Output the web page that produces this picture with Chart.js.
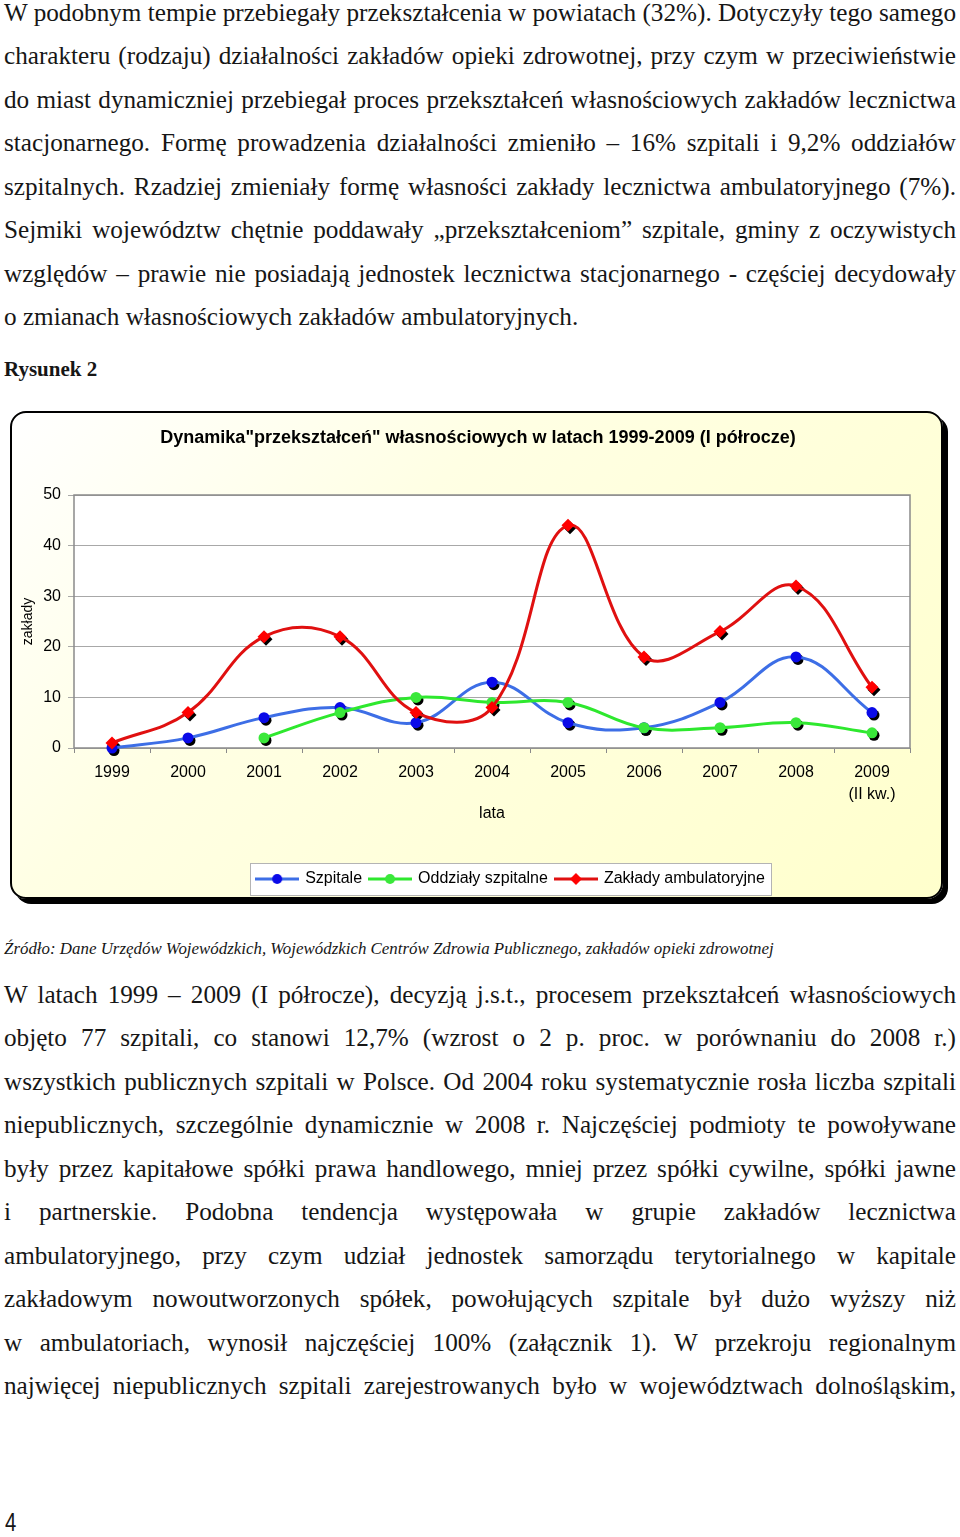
<!DOCTYPE html>
<html lang="pl">
<head>
<meta charset="utf-8">
<title>Rysunek 2</title>
<script src="https://cdn.jsdelivr.net/npm/chart.js@4.4.1/dist/chart.umd.min.js"></script>
<style>
  html, body { margin: 0; padding: 0; background: #fff; }
  body { width: 960px; height: 1537px; position: relative; overflow: hidden;
         font-family: "Liberation Serif", "Times New Roman", serif; color: #161616; }
  .txt { position: absolute; left: 4px; width: 952px; font-size: 25.2px; line-height: 43.45px; }
  .txt div { white-space: nowrap; text-align: justify; text-align-last: justify; }
  .txt div.last { text-align-last: left; }
  #fig { position: absolute; left: 4px; top: 354px; font-size: 21px; font-weight: bold; line-height: 30px; }
  #src { position: absolute; left: 4px; top: 937px; font-size: 16.9px; font-style: italic; line-height: 24px; white-space: nowrap; }
  #pg { position: absolute; left: 5px; top: 1505px; font-family: "Liberation Sans", Arial, sans-serif;
        font-size: 26px; line-height: 34px; transform: scaleX(0.78); transform-origin: left top; }
  #frame { position: absolute; left: 10px; top: 411px; width: 929px; height: 484px;
           border: 2px solid #000; border-radius: 16px; box-shadow: 5px 5px 0 #000;
           background: linear-gradient(135deg, #ffffff 0%, #ffffe4 35%, #ffffcc 100%); }
  #frame canvas { position: absolute; left: 0; top: 0; }
</style>
</head>
<body>

<div class="txt" style="top:-9px">
  <div>W podobnym tempie przebiegały przekształcenia w powiatach (32%). Dotyczyły tego samego</div>
  <div>charakteru (rodzaju) działalności zakładów opieki zdrowotnej, przy czym w przeciwieństwie</div>
  <div>do miast dynamiczniej przebiegał proces przekształceń własnościowych zakładów lecznictwa</div>
  <div>stacjonarnego. Formę prowadzenia działalności zmieniło – 16% szpitali i 9,2% oddziałów</div>
  <div>szpitalnych. Rzadziej zmieniały formę własności zakłady lecznictwa ambulatoryjnego (7%).</div>
  <div>Sejmiki województw chętnie poddawały „przekształceniom” szpitale, gminy z oczywistych</div>
  <div>względów – prawie nie posiadają jednostek lecznictwa stacjonarnego - częściej decydowały</div>
  <div class="last">o zmianach własnościowych zakładów ambulatoryjnych.</div>
</div>

<div id="fig">Rysunek 2</div>

<div id="frame"><canvas id="chart" width="929" height="484"></canvas></div>

<div id="src">Źródło: Dane Urzędów Wojewódzkich, Wojewódzkich Centrów Zdrowia Publicznego, zakładów opieki zdrowotnej</div>

<div class="txt" style="top:973px">
  <div>W latach 1999 – 2009 (I półrocze), decyzją j.s.t., procesem przekształceń własnościowych</div>
  <div>objęto 77 szpitali, co stanowi 12,7% (wzrost o 2 p. proc. w porównaniu do 2008 r.)</div>
  <div>wszystkich publicznych szpitali w Polsce. Od 2004 roku systematycznie rosła liczba szpitali</div>
  <div>niepublicznych, szczególnie dynamicznie w 2008 r. Najczęściej podmioty te powoływane</div>
  <div>były przez kapitałowe spółki prawa handlowego, mniej przez spółki cywilne, spółki jawne</div>
  <div>i partnerskie. Podobna tendencja występowała w grupie zakładów lecznictwa</div>
  <div>ambulatoryjnego, przy czym udział jednostek samorządu terytorialnego w kapitale</div>
  <div>zakładowym nowoutworzonych spółek, powołujących szpitale był dużo wyższy niż</div>
  <div>w ambulatoriach, wynosił najczęściej 100% (załącznik 1). W przekroju regionalnym</div>
  <div>najwięcej niepublicznych szpitali zarejestrowanych było w województwach dolnośląskim,</div>
</div>

<div id="pg">4</div>

<script>
// data
const years = ['1999', '2000', '2001', '2002', '2003', '2004', '2005', '2006', '2007', '2008', ['2009', '(II kw.)']];
const szpitale = [0, 2, 6, 8, 5, 13, 5, 4, 9, 18, 7];
const oddzialy = [null, null, 2, 7, 10, 9, 9, 4, 4, 5, 3];
const ambulatoryjne = [1, 7, 22, 22, 7, 8, 44, 18, 23, 32, 12];
const seriesNames = ['Szpitale', 'Oddziały szpitalne', 'Zakłady ambulatoryjne'];

const FONT = '"Liberation Sans", Arial, sans-serif';

// legend icon: line with a marker in the middle
function legendIcon(lineColor, dotColor, diamond) {
  const c = document.createElement('canvas');
  c.width = 44; c.height = 14;
  const g = c.getContext('2d');
  g.strokeStyle = lineColor; g.lineWidth = 3;
  g.beginPath(); g.moveTo(0, 7); g.lineTo(44, 7); g.stroke();
  g.fillStyle = dotColor;
  g.beginPath();
  if (diamond) {
    g.moveTo(22, 1); g.lineTo(28, 7); g.lineTo(22, 13); g.lineTo(16, 7); g.closePath();
  } else {
    g.arc(22, 7, 5, 0, Math.PI * 2);
  }
  g.fill();
  return c;
}
const icons = [
  legendIcon('#3d6ee6', '#0a0ae8', false),
  legendIcon('#2ee82e', '#3ae83a', false),
  legendIcon('#e01010', '#ff0000', true)
];

// white plot, grey frame, legend box and marker shadows
const framePlugin = {
  id: 'frame',
  afterLayout(chart) {
    chart.legend.left += 50;
    chart.legend.right += 50;
    chart.titleBlock.left += 17;
    chart.titleBlock.right += 17;
  },
  beforeDraw(chart) {
    const {ctx, chartArea: a} = chart;
    ctx.save();
    ctx.fillStyle = '#fff';
    ctx.fillRect(a.left, a.top, a.right - a.left, a.bottom - a.top);
    const hb = chart.legend.legendHitBoxes;
    if (hb && hb.length) {
      const last = hb[hb.length - 1];
      const l = Math.round(hb[0].left - 7), r = Math.round(last.left + last.width + 6);
      const t = Math.round(chart.legend.top);
      ctx.fillRect(l, t, r - l, 32);
      ctx.strokeStyle = '#b4b4b4';
      ctx.lineWidth = 1;
      ctx.strokeRect(l + 0.5, t + 0.5, r - l, 32);
    }
    ctx.restore();
  },
  beforeDatasetsDraw(chart) {
    const {ctx, chartArea: a} = chart;
    ctx.save();
    ctx.strokeStyle = '#8a8a8a';
    ctx.lineWidth = 1.5;
    ctx.strokeRect(a.left, a.top, a.right - a.left, a.bottom - a.top);
    ctx.fillStyle = '#000';
    chart.data.datasets.forEach((ds, i) => {
      const meta = chart.getDatasetMeta(i);
      meta.data.forEach((pt, j) => {
        if (ds.data[j] == null) return;
        const x = pt.x + 2, y = pt.y + 2.5, r = ds.pointRadius;
        ctx.beginPath();
        if (ds.pointStyle === 'rectRot') {
          ctx.moveTo(x, y - r); ctx.lineTo(x + r, y); ctx.lineTo(x, y + r); ctx.lineTo(x - r, y); ctx.closePath();
        } else {
          ctx.arc(x, y, r, 0, Math.PI * 2);
        }
        ctx.fill();
      });
    });
    ctx.restore();
  }
};

new Chart(document.getElementById('chart'), {
  type: 'line',
  data: {
    labels: years,
    datasets: [
      { label: seriesNames[0], data: szpitale, borderColor: '#3d6ee6', backgroundColor: '#0a0ae8',
        pointBackgroundColor: '#0a0ae8', pointBorderColor: '#0a0ae8', pointStyle: 'circle', pointRadius: 5.5, order: 3 },
      { label: seriesNames[1], data: oddzialy, borderColor: '#2ee82e', backgroundColor: '#3ae83a',
        pointBackgroundColor: '#3ae83a', pointBorderColor: '#3ae83a', pointStyle: 'circle', pointRadius: 5.5, order: 2 },
      { label: seriesNames[2], data: ambulatoryjne, borderColor: '#e01010', backgroundColor: '#ff0000',
        pointBackgroundColor: '#ff0000', pointBorderColor: '#ff0000', pointStyle: 'rectRot', pointRadius: 6.5, order: 1 }
    ]
  },
  options: {
    responsive: false,
    animation: false,
    clip: false,
    layout: { padding: { left: 0, right: 31, top: 0, bottom: 0 } },
    elements: {
      line: { borderWidth: 3, tension: 0.4, fill: false },
      point: { borderWidth: 0, hoverRadius: 6 }
    },
    plugins: {
      title: {
        display: true,
        text: 'Dynamika"przekształceń" własnościowych w latach 1999-2009 (I półrocze)',
        color: '#000',
        font: { family: FONT, size: 18, weight: 'bold' },
        padding: { top: 14.2, bottom: 46.2 }
      },
      legend: {
        position: 'bottom',
        labels: {
          color: '#000',
          font: { family: FONT, size: 16 },
          usePointStyle: true,
          pointStyleWidth: 40,
          padding: 8,
          sort: (a, b) => a.datasetIndex - b.datasetIndex,
          generateLabels(chart) {
            const items = Chart.defaults.plugins.legend.labels.generateLabels(chart);
            items.forEach(it => { it.pointStyle = icons[it.datasetIndex]; });
            return items;
          }
        }
      },
      tooltip: { enabled: false }
    },
    scales: {
      x: {
        offset: true,
        afterFit(scale) { scale.height = 115; },
        grid: { offset: true, drawOnChartArea: false, drawTicks: true, tickLength: 5, color: '#8a8a8a' },
        border: { display: false },
        ticks: { color: '#000', font: { family: FONT, size: 16, lineHeight: 1.4 }, padding: 8, maxRotation: 0, autoSkip: false },
        title: { display: true, text: 'lata', color: '#000', font: { family: FONT, size: 16 }, padding: { top: 0, bottom: 39.4 } }
      },
      y: {
        min: 0, max: 50,
        afterFit(scale) { scale.width = 62; },
        grid: { color: '#a8a8a8', lineWidth: 1, tickLength: 6 },
        border: { display: false },
        ticks: { stepSize: 10, color: '#000', font: { family: FONT, size: 16 }, padding: 7 },
        title: { display: true, text: 'zakłady', color: '#000', font: { family: FONT, size: 14 }, padding: { top: 7.6, bottom: 0 } }
      }
    }
  },
  plugins: [framePlugin]
});
</script>
</body>
</html>
